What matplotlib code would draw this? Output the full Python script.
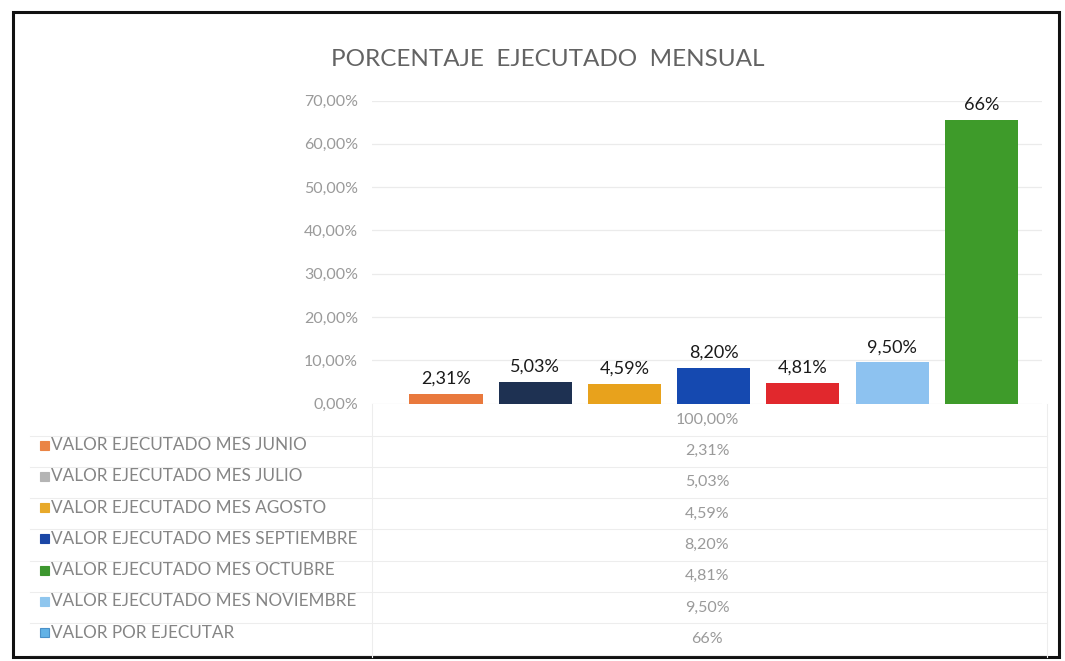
import matplotlib
matplotlib.use("Agg")
import matplotlib.pyplot as plt
from matplotlib.patches import Rectangle
from matplotlib.lines import Line2D

# data
series = ["VALOR EJECUTADO MES JUNIO", "VALOR EJECUTADO MES JULIO",
          "VALOR EJECUTADO MES AGOSTO", "VALOR EJECUTADO MES SEPTIEMBRE",
          "VALOR EJECUTADO MES OCTUBRE", "VALOR EJECUTADO MES NOVIEMBRE",
          "VALOR POR EJECUTAR"]
values = [2.31, 5.03, 4.59, 8.20, 4.81, 9.50, 65.56]
value_labels = ["2,31%", "5,03%", "4,59%", "8,20%", "4,81%", "9,50%", "66%"]
category = "100,00%"
yticks = [0, 10, 20, 30, 40, 50, 60, 70]

bar_colors = ["#E9793D", "#1E3152", "#E8A21C", "#1549B0", "#E1282D", "#8DC2F0", "#3E9B2A"]
key_colors = ["#EA8445", "#B4B4B4", "#E8A92A", "#1B47A6", "#3D972F", "#8FC6EE", "#62B2E6"]

W, H = 1065, 661
plt.rcParams['font.family'] = ['Lato', 'DejaVu Sans']
fig = plt.figure(figsize=(W / 100, H / 100), dpi=100)
fig.set_facecolor("white")


def fx(px):
    return px / W


def fy(py):
    return 1 - py / H


# outer border
fig.add_artist(Rectangle((fx(13), fy(657)), fx(1059) - fx(13), fy(12) - fy(657),
                         transform=fig.transFigure, fill=False, edgecolor="#111111", lw=2.2))

fig.text(fx(548), fy(60), "PORCENTAJE  EJECUTADO  MENSUAL", ha="center", va="center",
         fontsize=17.5, color="#636363")

# bar area
left, right, top, bottom = 372, 1042, 100.5, 403.5
ax = fig.add_axes([fx(left), fy(bottom), fx(right) - fx(left), fy(top) - fy(bottom)])
x = list(range(len(values)))
bars = ax.bar(x, values, width=0.82, color=bar_colors, zorder=3)
ax.bar_label(bars, labels=value_labels, padding=5, fontsize=13, color="#1a1a1a")
ax.set_ylim(0, 70)
ax.set_xlim(-0.83, 6.68)
ax.set_yticks(yticks)
ax.set_yticklabels([f"{t},00%" for t in yticks], fontsize=11.5, color="#9a9a9a")
ax.tick_params(axis="y", length=0, pad=10)
ax.set_xticks([])
ax.grid(axis="y", color="#ebebeb", lw=0.9, zorder=0)
for s in ax.spines.values():
    s.set_visible(False)

# data table
line_c = "#ededed"
row0, step = 435.5, 31.3
fig.text(fx(707), fy(420), category, ha="center", va="center", fontsize=11.5, color="#9a9a9a")
for i in range(len(series) + 1):
    yy = row0 + step * i
    fig.add_artist(Line2D([fx(30), fx(1047)], [fy(yy), fy(yy)], transform=fig.transFigure,
                          color=line_c, lw=0.8))
for xx in (372, 1047):
    fig.add_artist(Line2D([fx(xx), fx(xx)], [fy(404), fy(657)], transform=fig.transFigure,
                          color=line_c, lw=0.8))

for i, name in enumerate(series):
    yl = 445 + step * i
    yv = 451 + step * i
    fig.add_artist(Rectangle((fx(40), fy(yl + 4.5)), fx(9), 9 / H, transform=fig.transFigure,
                             facecolor=key_colors[i], edgecolor="#4a90c8" if i == 6 else key_colors[i],
                             lw=0.8))
    fig.text(fx(51), fy(yl), name, ha="left", va="center", fontsize=12.3, color="#858585")
    fig.text(fx(707), fy(yv), value_labels[i], ha="center", va="center", fontsize=11.5,
             color="#9a9a9a")

fig.savefig("out.png", dpi=100, facecolor="white")
